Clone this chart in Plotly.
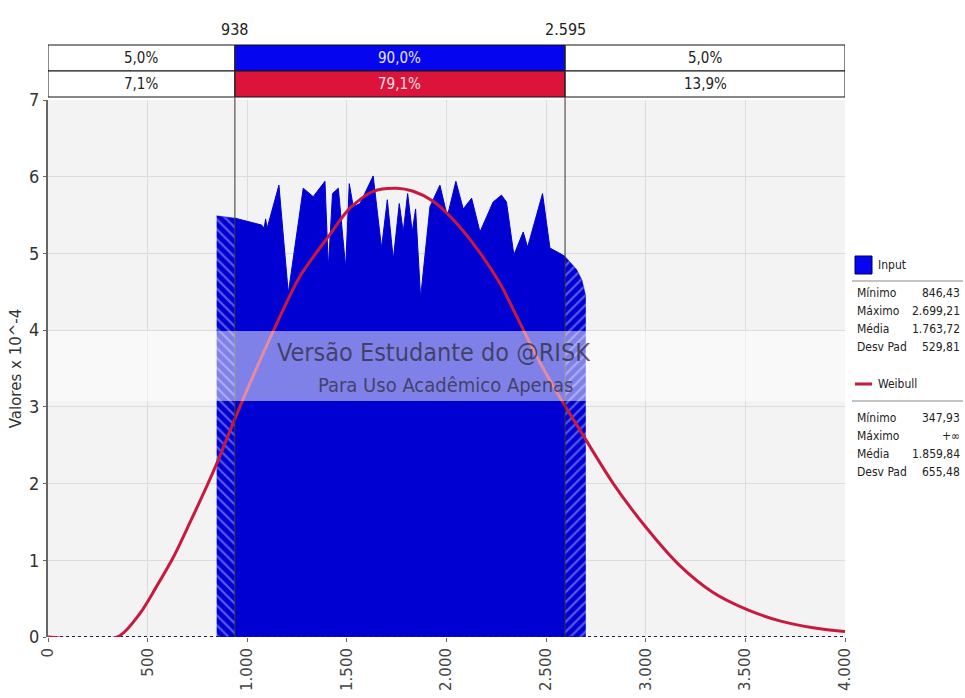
import plotly.graph_objects as go

# ---- data -------------------------------------------------------------
# Simulated "Input" density (values x 10^-4)
input_x = [846.43, 938, 1072, 1085, 1092, 1100, 1159, 1206, 1281, 1331, 1390, 1407,
           1428, 1457, 1494, 1512, 1532, 1566, 1632, 1674, 1703, 1733, 1763, 1783,
           1805, 1828, 1845, 1870, 1917, 1967, 2004, 2047, 2084, 2126, 2168, 2234,
           2276, 2301, 2338, 2385, 2407, 2482, 2519, 2569, 2595, 2653, 2680, 2699.21]
input_y = [5.49, 5.46, 5.37, 5.33, 5.45, 5.33, 5.89, 4.48, 5.85, 5.74, 5.94, 4.81,
           5.78, 5.85, 4.81, 5.91, 5.61, 5.65, 6.01, 5.07, 5.70, 4.92, 5.65, 5.28,
           5.78, 5.28, 5.58, 4.42, 5.61, 5.89, 5.48, 5.94, 5.58, 5.72, 5.28, 5.67,
           5.76, 5.67, 4.98, 5.28, 5.08, 5.78, 5.07, 5.00, 4.96, 4.79, 4.65, 4.44]

# Fitted Weibull density (values x 10^-4)
weib_x = [0, 347.93, 462, 545, 629, 712, 796, 850, 963, 1156, 1264, 1407, 1515,
          1632, 1750, 1833, 1933, 2034, 2151, 2268, 2352, 2460, 2577, 2669, 2837, 3004,
          3171, 3338, 3506, 3673, 3840, 4000]
weib_y = [0, 0, 0.31, 0.66, 1.04, 1.49, 1.96, 2.28, 3.00, 4.13, 4.70, 5.22, 5.59,
          5.81, 5.85, 5.81, 5.68, 5.44, 5.07, 4.61, 4.18, 3.62, 3.09, 2.70, 2.00, 1.42,
          0.93, 0.58, 0.36, 0.21, 0.12, 0.07]

# Delimiters and the probability bands above the chart
low_cut, high_cut = 938, 2595
cut_labels = ["938", "2.595"]
input_band = ["5,0%", "90,0%", "5,0%"]
weib_band = ["7,1%", "79,1%", "13,9%"]

x_range = [0, 4000]
x_ticks = [0, 500, 1000, 1500, 2000, 2500, 3000, 3500, 4000]
x_tick_text = ["0", "500", "1.000", "1.500", "2.000", "2.500", "3.000", "3.500", "4.000"]
y_ticks = [0, 1, 2, 3, 4, 5, 6, 7]

input_stats = [("Mínimo", "846,43"), ("Máximo", "2.699,21"),
               ("Média", "1.763,72"), ("Desv Pad", "529,81")]
weib_stats = [("Mínimo", "347,93"), ("Máximo", "+∞"),
              ("Média", "1.859,84"), ("Desv Pad", "655,48")]

# ---- style ------------------------------------------------------------
W, H = 965, 698
ML, MR, MT, MB = 48, 120, 100, 61
BLUE = "#0000d2"
BAR_BLUE = "#0505f0"
RED = "#dc143c"
LINE_RED = "#c8193f"
NARROW = "'Liberation Sans Narrow', 'DejaVu Sans Condensed', 'Arial Narrow', sans-serif"
COND = "'DejaVu Sans Condensed', 'Liberation Sans Narrow', sans-serif"


def px_x(px):
    return (px - ML) / (W - ML - MR)


def px_y(py):
    return (H - MB - py) / (H - MT - MB)


def label(x, y, text, font, xref="paper", xanchor="center"):
    return dict(x=x, y=y, xref=xref, yref="paper", text=text, showarrow=False,
                xanchor=xanchor, yanchor="middle", font=font)


fig = go.Figure()

# Input density split into the tails (hatched) and the central band (solid)
left = [(x, y) for x, y in zip(input_x, input_y) if x <= low_cut]
mid = [(x, y) for x, y in zip(input_x, input_y) if low_cut <= x <= high_cut]
right = [(x, y) for x, y in zip(input_x, input_y) if x >= high_cut]

for seg, shape in ((left, "\\"), (right, "/")):
    fig.add_trace(go.Scatter(
        x=[p[0] for p in seg], y=[p[1] for p in seg],
        mode="lines", fill="tozeroy", line=dict(color=BLUE, width=0.5),
        fillcolor=BLUE,
        fillpattern=dict(shape=shape, bgcolor=BLUE, fgcolor="#b8b8ff",
                         size=7, solidity=0.3),
        showlegend=False, hoverinfo="skip"))

fig.add_trace(go.Scatter(
    x=[p[0] for p in mid], y=[p[1] for p in mid],
    mode="lines", fill="tozeroy", line=dict(color=BLUE, width=1),
    fillcolor=BLUE, showlegend=False, name="Input"))

# zero baseline of the input density
fig.add_trace(go.Scatter(
    x=x_range, y=[0, 0], mode="lines",
    line=dict(color="#1b1b5e", width=2, dash="dot"),
    showlegend=False, hoverinfo="skip"))

fig.add_trace(go.Scatter(
    x=weib_x, y=weib_y, mode="lines", line=dict(color=LINE_RED, width=3, shape="spline",
                                                 smoothing=0.8),
    showlegend=False, name="Weibull"))

# down-pointing markers on the delimiters
fig.add_trace(go.Scatter(
    x=[low_cut, high_cut], y=[7 * px_y(46)] * 2, mode="markers",
    marker=dict(symbol="triangle-down", size=9, color="#3a3a3a"),
    cliponaxis=False, showlegend=False, hoverinfo="skip"))

shapes = []
annotations = []

# probability band table
cells = [(x_range[0], low_cut), (low_cut, high_cut), (high_cut, x_range[1])]
rows = [(input_band, px_y(45), px_y(71), BAR_BLUE, "#e6e6ff"),
        (weib_band, px_y(71), px_y(97), RED, "#ffe0e6")]
for labels, y_top, y_bot, fill, inner_txt in rows:
    for i, ((x0, x1), lab) in enumerate(zip(cells, labels)):
        shapes.append(dict(type="rect", xref="x", yref="paper", x0=x0, x1=x1,
                           y0=y_bot, y1=y_top, fillcolor=fill if i == 1 else "white",
                           line=dict(color="#111", width=1), layer="above"))
        annotations.append(label((x0 + x1) / 2, (y_top + y_bot) / 2, lab,
                                 dict(family=COND, size=15,
                                      color=inner_txt if i == 1 else "#222"), xref="x"))

# delimiter lines and labels
for xv, lab in zip([low_cut, high_cut], cut_labels):
    shapes.append(dict(type="line", xref="x", yref="paper", x0=xv, x1=xv,
                       y0=0, y1=px_y(45), line=dict(color="#333", width=1),
                       layer="above"))
    annotations.append(label(xv, px_y(29), lab, dict(family=COND, size=16, color="#222"),
                             xref="x"))

# watermark band
shapes.append(dict(type="rect", xref="paper", yref="paper", x0=0, x1=1,
                   y0=px_y(401), y1=px_y(331), fillcolor="rgba(255,255,255,0.5)",
                   line=dict(width=0), layer="above"))
annotations.append(label(px_x(434), px_y(352), "Versão Estudante do @RISK",
                         dict(family=NARROW, size=25, color="rgba(45,45,60,0.75)")))
annotations.append(label(px_x(446), px_y(385), "Para Uso Acadêmico Apenas",
                         dict(family=COND, size=20, color="rgba(45,45,60,0.75)")))

# custom legend with summary statistics
LEG = dict(family=COND, size=12, color="#222")
shapes.append(dict(type="rect", xref="paper", yref="paper", x0=px_x(855), x1=px_x(872),
                   y0=px_y(274), y1=px_y(256), fillcolor=BAR_BLUE,
                   line=dict(color="#000060", width=1)))
annotations.append(label(px_x(876), px_y(265), "Input", LEG, xanchor="left"))
shapes.append(dict(type="line", xref="paper", yref="paper", x0=px_x(852), x1=px_x(963),
                   y0=px_y(281), y1=px_y(281), line=dict(color="#888", width=1)))
shapes.append(dict(type="line", xref="paper", yref="paper", x0=px_x(855), x1=px_x(872),
                   y0=px_y(384), y1=px_y(384), line=dict(color=LINE_RED, width=3)))
annotations.append(label(px_x(876), px_y(384), "Weibull", LEG, xanchor="left"))
shapes.append(dict(type="line", xref="paper", yref="paper", x0=px_x(852), x1=px_x(963),
                   y0=px_y(401), y1=px_y(401), line=dict(color="#888", width=1)))

for stats, y_first in ((input_stats, 293), (weib_stats, 418)):
    for k, (name, val) in enumerate(stats):
        yy = px_y(y_first + 18 * k)
        annotations.append(label(px_x(855), yy, name, LEG, xanchor="left"))
        annotations.append(label(px_x(962), yy, val, LEG, xanchor="right"))

fig.update_layout(
    width=W, height=H,
    margin=dict(l=ML, r=MR, t=MT, b=MB, pad=0),
    paper_bgcolor="white", plot_bgcolor="#f3f3f3",
    shapes=shapes, annotations=annotations,
    xaxis=dict(range=x_range, tickvals=x_ticks, ticktext=x_tick_text, tickangle=-90,
               automargin=False,
               showgrid=True, gridcolor="#dcdcdc", gridwidth=1, zeroline=False,
               showline=False, ticks="outside", ticklen=4, tickcolor="#666",
               tickfont=dict(family="'DejaVu Sans', sans-serif", size=15, color="#444")),
    yaxis=dict(range=[0, 7], tickvals=y_ticks, showgrid=True, gridcolor="#dcdcdc",
               automargin=False,
               gridwidth=1, zeroline=False, showline=True, linecolor="#666", linewidth=2,
               ticks="outside", ticklen=3, tickcolor="#666",
               tickfont=dict(family=COND, size=18, color="#333"),
               title=dict(text="Valores x 10^-4",
                          font=dict(family="'DejaVu Sans', sans-serif", size=15,
                                    color="#333"),
                          standoff=4)),
    showlegend=False,
)

fig.write_html("out.html")
